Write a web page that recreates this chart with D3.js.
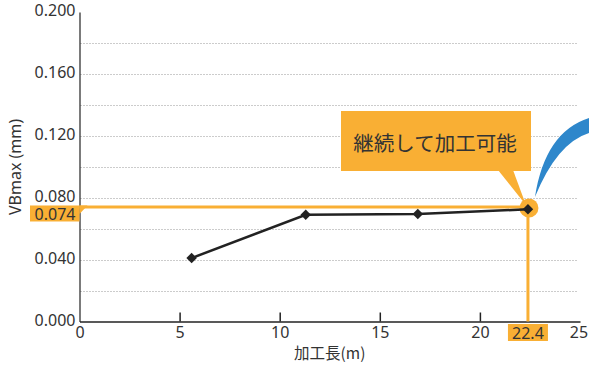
<!DOCTYPE html>
<html>
<head>
<meta charset="utf-8">
<script src="https://cdn.jsdelivr.net/npm/d3@7"></script>
<style>
  html, body { margin: 0; padding: 0; background: #fff; }
  svg { display: block; }
  text { font-family: "Noto Sans", "Noto Sans CJK JP", sans-serif; fill: #333; }
  .jp { font-family: "Noto Sans CJK JP", "Noto Sans", sans-serif; }
</style>
</head>
<body>
<svg id="chart" width="589" height="366"></svg>
<script>
// Tool wear VBmax against machined length
const lengths = [5.6, 11.3, 16.9, 22.4];
const vbmax = [0.041, 0.069, 0.0695, 0.0725];
const xTicks = [0, 5, 10, 15, 20, 25];
const yTicks = [0, 0.04, 0.08, 0.12, 0.16, 0.2];
const gridValues = [0.02, 0.04, 0.06, 0.08, 0.10, 0.12, 0.14, 0.16, 0.18];
const markLength = 22.4;
const markValue = 0.074;
const calloutText = "継続して加工可能";

const orange = "#f9af34";
const svg = d3.select("#chart");

const x = d3.scaleLinear().domain([0, 25]).range([79.5, 580]);
const y = d3.scaleLinear().domain([0, 0.2]).range([321.5, 12]);

// dotted horizontal grid
svg.append("g").selectAll("line").data(gridValues).join("line")
  .attr("x1", x(0) + 1).attr("x2", x(25) - 2)
  .attr("y1", d => Math.round(y(d)) + 0.5).attr("y2", d => Math.round(y(d)) + 0.5)
  .attr("stroke", "#999").attr("stroke-width", 1)
  .attr("stroke-dasharray", "1,2");

// y axis
const yAxis = svg.append("g").attr("transform", `translate(${x(0)},0)`)
  .call(d3.axisLeft(y).tickValues(yTicks).tickFormat(d3.format(".3f")).tickSize(0).tickPadding(4));
yAxis.select(".domain").attr("stroke", "#222").attr("stroke-width", 1.2);
yAxis.selectAll("text").attr("font-size", 16).attr("fill", "#333")
  .attr("font-family", "Noto Sans").attr("dy", "0.22em");

// x axis with inward ticks
const xAxis = svg.append("g").attr("transform", `translate(0,${y(0)})`)
  .call(d3.axisBottom(x).tickValues(xTicks).tickSize(0).tickPadding(5));
xAxis.select(".domain").attr("stroke", "#222").attr("stroke-width", 1.5);
xAxis.selectAll("text").attr("font-size", 16).attr("fill", "#333").attr("font-family", "Noto Sans");
xAxis.selectAll(".tick").filter(d => d > 0 && d < 25).append("line")
  .attr("y1", 0).attr("y2", -9).attr("stroke", "#222").attr("stroke-width", 1.5);
xAxis.selectAll(".tick").filter(d => d === 25).select("text").attr("dx", -1.5);

// axis titles
svg.append("text").attr("class", "jp")
  .attr("x", x(12.5)).attr("y", 359).attr("text-anchor", "middle")
  .attr("font-size", 15.5).text("加工長(m)");
svg.append("text")
  .attr("transform", `translate(21,167) rotate(-90)`).attr("text-anchor", "middle")
  .attr("font-size", 16).text("VBmax (mm)");

// orange guide lines to the last measurement
const lastX = x(markLength), guideY = y(markValue);
svg.append("line").attr("x1", x(0)).attr("x2", lastX)
  .attr("y1", guideY).attr("y2", guideY)
  .attr("stroke", orange).attr("stroke-width", 3);
svg.append("line").attr("x1", lastX).attr("x2", lastX)
  .attr("y1", guideY).attr("y2", y(0))
  .attr("stroke", orange).attr("stroke-width", 3);
svg.append("circle").attr("cx", lastX + 1).attr("cy", guideY + 1).attr("r", 9.5).attr("fill", orange);

// value label on y axis
svg.append("rect").attr("x", 30).attr("y", guideY - 1.5).attr("width", x(0) - 30).attr("height", 16)
  .attr("fill", orange);
svg.append("path")
  .attr("d", `M${x(0)},${guideY - 1.5}L${x(0) + 8},${guideY - 1.5}L${x(0)},${guideY + 7}Z`)
  .attr("fill", orange);
svg.append("text").attr("x", x(0) - 4).attr("y", guideY + 7).attr("dy", "0.35em")
  .attr("text-anchor", "end").attr("font-size", 16).text(d3.format(".3f")(markValue));

// value label on x axis
svg.append("rect").attr("x", lastX - 20).attr("y", y(0) + 2.5).attr("width", 40).attr("height", 17)
  .attr("fill", orange);
svg.append("text").attr("x", lastX).attr("y", y(0) + 17).attr("text-anchor", "middle")
  .attr("font-size", 16).text(markLength);

// measurement line and diamond markers
const pts = lengths.map((l, i) => [x(l), y(vbmax[i])]);
svg.append("path").attr("d", d3.line()(pts))
  .attr("fill", "none").attr("stroke", "#222").attr("stroke-width", 2.5);
svg.append("g").selectAll("path").data(pts).join("path")
  .attr("transform", d => `translate(${d[0]},${d[1]})`)
  .attr("d", d3.symbol(d3.symbolDiamond2, 70)())
  .attr("fill", "#222");

// callout box with pointer to the last marker
const box = { x: 341, y: 111, w: 190, h: 60 };
svg.append("path")
  .attr("d", `M${box.x + 157},${box.y + box.h - 1}L${box.x + 172},${box.y + box.h - 1}L${lastX - 2},${guideY - 2}Z`)
  .attr("fill", orange);
svg.append("rect").attr("x", box.x).attr("y", box.y).attr("width", box.w).attr("height", box.h)
  .attr("fill", orange);
svg.append("text").attr("class", "jp")
  .attr("x", box.x + box.w / 2 - 1).attr("y", box.y + 40).attr("text-anchor", "middle")
  .attr("font-size", 20.5).attr("fill", "#333").text(calloutText);

// blue swoosh leaving the last marker
svg.append("path")
  .attr("d", `M${lastX + 7},${guideY - 10} Q545,132 589,118 L589,133 Q557,143 ${lastX + 7},${guideY - 10} Z`)
  .attr("fill", "#2e87cb");
</script>
</body>
</html>
